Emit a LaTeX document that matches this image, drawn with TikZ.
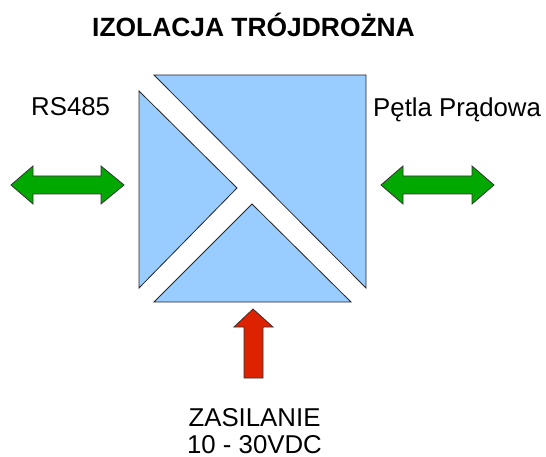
\documentclass[tikz,border=0pt]{standalone}
\usepackage{fontspec}
\setmainfont{Liberation Sans}
\definecolor{blockblue}{HTML}{99CCFF}
\definecolor{arrgreen}{HTML}{00A800}
\definecolor{arrred}{HTML}{DD2200}
\begin{document}
\begin{tikzpicture}[x=1pt,y=-1pt,
  blockpart/.style={fill=blockblue,draw=black!85,line width=0.8pt,line join=miter},
  greenarrow/.style={fill=arrgreen,draw=black!80,line width=0.8pt},
  redarrow/.style={fill=arrred,draw=black!80,line width=0.8pt},
  lbl/.style={inner sep=0pt,font=\fontsize{25.8}{28.5}\selectfont}]
\useasboundingbox (0,0) rectangle (546,457);
% title
\node[lbl,anchor=base,font=\bfseries\fontsize{26.4}{30}\selectfont] (title) at (253.5,37) {IZOLACJA TRÓJDROŻNA};
% isolation blocks
\draw[blockpart] (154,75) -- (366,75) -- (366,288) -- cycle;
\draw[blockpart] (139,91) -- (237,188) -- (139,288) -- cycle;
\draw[blockpart] (154,302) -- (252,204) -- (351,302) -- cycle;
% green double arrows
\draw[greenarrow] (11,185) -- (33,166) -- (33,176) -- (101,176) -- (101,166) -- (124,185) -- (101,204) -- (101,194) -- (33,194) -- (33,204) -- cycle;
\draw[greenarrow] (381,185) -- (403,166) -- (403,176) -- (472,176) -- (472,166) -- (494,185) -- (472,204) -- (472,194) -- (403,194) -- (403,204) -- cycle;
% red arrow
\draw[redarrow] (253,309) -- (273,327) -- (263,327) -- (263,378) -- (244,378) -- (244,327) -- (234,327) -- cycle;
% labels
\node[lbl,anchor=base west] (rs) at (31,116) {RS485};
\node[lbl,anchor=base west] (petla) at (373,117) {Pętla Prądowa};
\node[lbl,anchor=base] (zas) at (254.5,426) {ZASILANIE};
\node[lbl,anchor=base,text depth=0pt] (volt) at (254.5,453.5) {10 - 30VDC};
\end{tikzpicture}
\end{document}
